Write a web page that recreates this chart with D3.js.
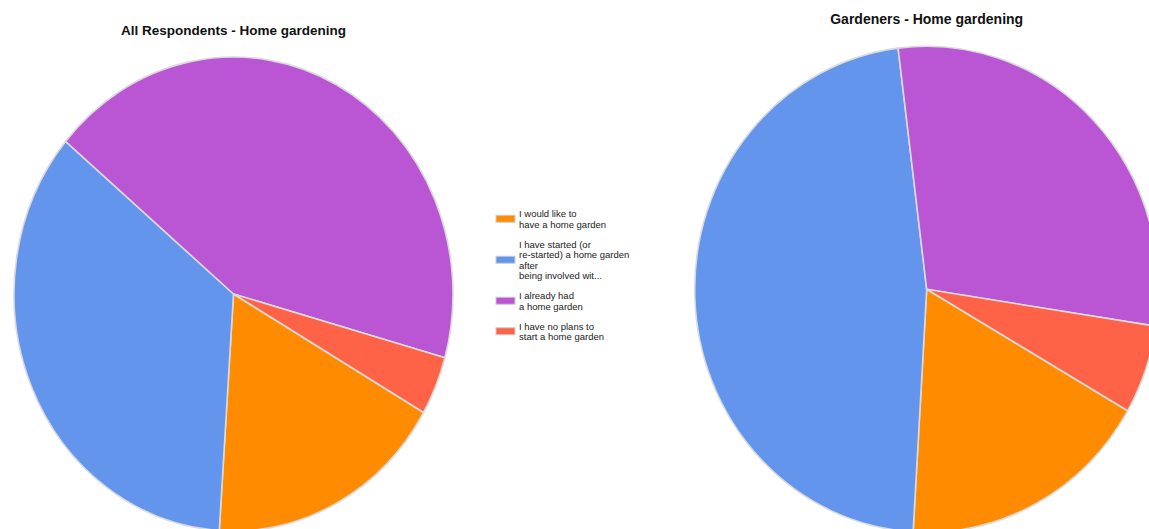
<!DOCTYPE html>
<html>
<head>
<meta charset="utf-8">
<script src="https://cdn.jsdelivr.net/npm/d3@7"></script>
<style>
  html, body { margin: 0; padding: 0; background: #fff; }
  svg { display: block; }
</style>
</head>
<body>
<svg id="chart" width="1149" height="529"></svg>
<script>
// Answer categories, in legend / slice order
const categories = [
  "I would like to have a home garden",
  "I have started (or re-started) a home garden after being involved wit...",
  "I already had a home garden",
  "I have no plans to start a home garden"
];
// Wrapped legend text for each category
const legendLines = [
  ["I would like to", "have a home garden"],
  ["I have started (or", "re-started) a home garden", "after", "being involved wit..."],
  ["I already had", "a home garden"],
  ["I have no plans to", "start a home garden"]
];
// Share of answers (%) per category
const allRespondents = [17.7, 35.1, 43.2, 4.0];
const gardeners = [17.6, 47.1, 29.4, 5.9];
const sliceColors = ["#FF8C00", "#6495ED", "#BA55D3", "#FF6347"];

const svg = d3.select("#chart");
const color = d3.scaleOrdinal().domain(categories).range(sliceColors);

const startAngle = 120 * Math.PI / 180;
const pie = d3.pie()
  .sort(null)
  .value(d => d.value)
  .startAngle(startAngle)
  .endAngle(startAngle + 2 * Math.PI);

function drawPie(values, title, cx, cy, rx, ry, titleY, titleSize) {
  const data = categories.map((c, i) => ({ category: c, value: values[i] }));
  const arc = d3.arc().innerRadius(0).outerRadius(rx);
  const g = svg.append("g")
    .attr("transform", `translate(${cx},${cy}) scale(1,${ry / rx})`);
  g.selectAll("path")
    .data(pie(data))
    .join("path")
    .attr("d", arc)
    .attr("fill", d => color(d.data.category))
    .attr("stroke", "#dadada")
    .attr("stroke-width", 1.6)
    .attr("stroke-linejoin", "round")
    .attr("vector-effect", "non-scaling-stroke");

  svg.append("text")
    .attr("x", cx)
    .attr("y", titleY)
    .attr("text-anchor", "middle")
    .attr("font-family", "'Liberation Sans', Arial, sans-serif")
    .attr("font-weight", "bold")
    .attr("font-size", titleSize)
    .attr("fill", "#111")
    .text(title);
}

drawPie(allRespondents, "All Respondents - Home gardening", 233.5, 294, 219.5, 237, 35, 13.5);
drawPie(gardeners, "Gardeners - Home gardening", 926.7, 289.3, 232, 243, 23.5, 14);

// Legend between the two pies
const legend = svg.append("g")
  .attr("font-family", "'Liberation Sans', Arial, sans-serif")
  .attr("font-size", 9.5)
  .attr("fill", "#222");

const lineH = 10.5, itemGap = 20, swatchX = 496, textX = 519;
let baseline = 217;
legendLines.forEach((lines, i) => {
  const first = baseline;
  const last = first + (lines.length - 1) * lineH;
  const mid = (first + last) / 2 - 3.5;
  legend.append("rect")
    .attr("x", swatchX)
    .attr("y", mid - 3.5)
    .attr("width", 19)
    .attr("height", 7)
    .attr("fill", color(categories[i]))
    .attr("stroke", "#cccccc")
    .attr("stroke-width", 1);
  lines.forEach((t, j) => {
    legend.append("text")
      .attr("x", textX)
      .attr("y", first + j * lineH)
      .text(t);
  });
  baseline = last + itemGap;
});
</script>
</body>
</html>
